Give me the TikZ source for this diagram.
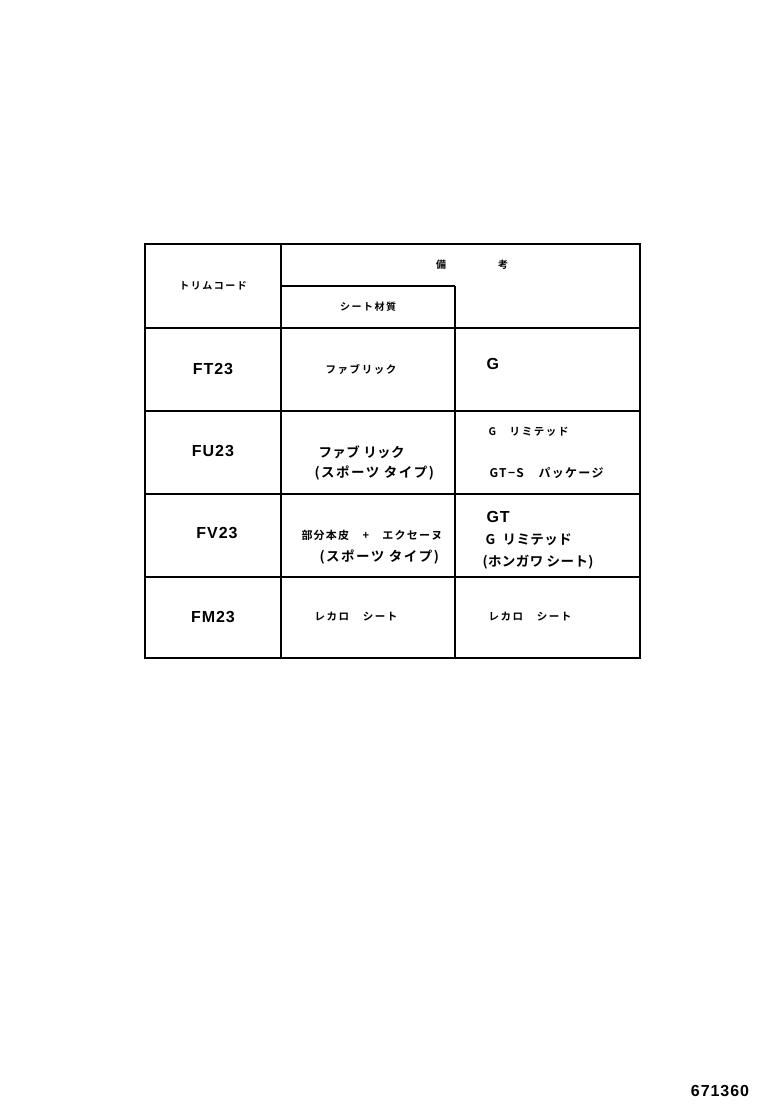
\documentclass[tikz,border=0pt]{standalone}
\usepackage{fontspec}
\setmainfont{Liberation Sans}
\newfontfamily\jpfont{Noto Sans CJK JP}[BoldFont={Noto Sans CJK JP Bold}]
\usetikzlibrary{positioning}
\tikzset{
  frame/.style={line width=2pt},
  rowline/.style={line width=2pt},
  colline/.style={line width=1.2pt},
  code/.style={font=\fontsize{16}{16}\selectfont\bfseries\addfontfeature{LetterSpace=6}},
  big/.style={font=\fontsize{13.5}{13.5}\selectfont\jpfont\bfseries\addfontfeature{LetterSpace=3}, anchor=west},
  wide/.style={big, font=\fontsize{13.5}{13.5}\selectfont\jpfont\bfseries\addfontfeature{LetterSpace=11}},
  small/.style={font=\fontsize{10.5}{10.5}\selectfont\jpfont\bfseries\addfontfeature{LetterSpace=15}, anchor=west},
  head/.style={font=\fontsize{10}{10}\selectfont\jpfont\bfseries\addfontfeature{LetterSpace=15}}
}
\begin{document}
\begin{tikzpicture}[x=1pt,y=-1pt]
\useasboundingbox (0,0) rectangle (760,1112);
% table frame
\draw[frame] (145,244) rectangle (640,658);
\draw[colline] (281,244) -- (281,658);
\draw[colline] (455,286) -- (455,658);
\draw[colline] (281,286) -- (455,286);
\foreach \y in {328,411,494,577}
  \draw[rowline] (145,\y) -- (640,\y);

% header
\node[head] (trimcode) at (213,286) {トリムコード};
\node[head] (biko) at (472,265) {備\hspace{52pt}考};
\node[head] (seatmat) at (368,307) {シート材質};

% trim codes
\node[code] (ft) at (213,369) {FT23};
\node[code] (fu) at (213,451) {FU23};
\node[code] (fv) at (217,533) {FV23};
\node[code] (fm) at (213,617) {FM23};

% seat material
\node[small] (ftmat) at (322,369) {ファブリック};
\node[big] (fumat) at (315,452) {ファブ リック};
\node[wide] (fumat2) at (311,473) {(スポーツ タイプ)};
\node[small, font=\fontsize{11}{11}\selectfont\jpfont\bfseries\addfontfeature{LetterSpace=11}] (fvmat) at (298,535) {部分本皮　+　エクセーヌ};
\node[wide] (fvmat2) at (316,557) {(スポーツ タイプ)};
\node[small] (fmmat) at (311,617) {レカロ　シート};

% remarks
\node[code, anchor=west] (ftrem) at (483,364) {G};
\node[small] (furem) at (485,432) {G　リミテッド};
\node[small, font=\fontsize{12}{12}\selectfont\jpfont\bfseries\addfontfeature{LetterSpace=11}] (furem2) at (486,473) {GT−S　パッケージ};
\node[code, anchor=west] (fvrem) at (483,517) {GT};
\node[big] (fvrem2) at (482,540) {G\hspace{4pt} リミテッド};
\node[big] (fvrem3) at (479,562) {(ホンガワ シート)};
\node[small] (fmrem) at (485,617) {レカロ　シート};

% drawing number
\node[code] (drawno) at (720,1091) {671360};
\end{tikzpicture}
\end{document}
